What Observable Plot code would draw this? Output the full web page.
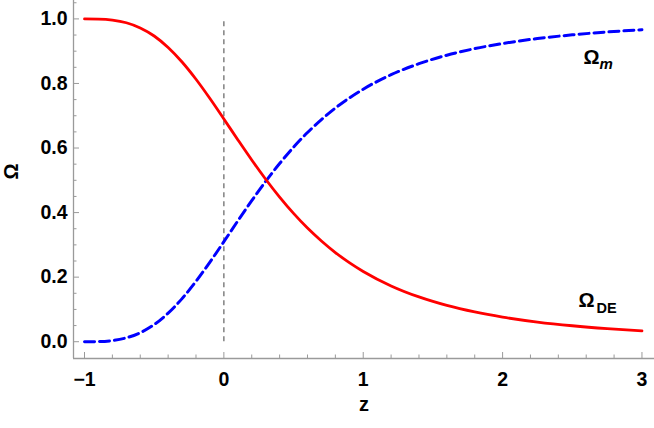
<!DOCTYPE html>
<html>
<head>
<meta charset="utf-8">
<script src="https://cdn.jsdelivr.net/npm/d3@7"></script>
<script src="https://cdn.jsdelivr.net/npm/@observablehq/plot@0.6"></script>
<style>
  html, body { margin: 0; padding: 0; background: #fff; }
  #chart svg { display: block; }
</style>
</head>
<body>
<div id="chart"></div>
<script>
// ---- data ----
const zValues = [-1, -0.9, -0.8, -0.7, -0.6, -0.5, -0.4, -0.3, -0.2, -0.1, 0,
                 0.1, 0.2, 0.3, 0.4, 0.5, 0.6, 0.7, 0.8, 0.9, 1.0,
                 1.2, 1.4, 1.6, 1.8, 2.0, 2.25, 2.5, 2.75, 3.0];
const omegaDE = [1.0, 0.9995, 0.9964, 0.988, 0.972, 0.947, 0.9115, 0.8665, 0.813, 0.7533, 0.69,
                 0.6258, 0.563, 0.5033, 0.448, 0.3974, 0.352, 0.312, 0.2762, 0.245, 0.2177,
                 0.1729, 0.1387, 0.1124, 0.0921, 0.0762, 0.0609, 0.0494, 0.0405, 0.0336];
const omegaM  = [0.0, 0.0005, 0.0036, 0.012, 0.028, 0.053, 0.0885, 0.1335, 0.187, 0.2467, 0.31,
                 0.3742, 0.437, 0.4967, 0.552, 0.6026, 0.648, 0.688, 0.7238, 0.755, 0.7823,
                 0.8271, 0.8613, 0.8876, 0.9079, 0.9238, 0.9391, 0.9506, 0.9595, 0.9664];

const xDomain = [-1.079, 3.09];
const yDomain = [-0.052, 1.057];
const xMajor = [-1, 0, 1, 2, 3];
const xMinor = [-0.8, -0.6, -0.4, -0.2, 0.2, 0.4, 0.6, 0.8, 1.2, 1.4, 1.6, 1.8,
                2.2, 2.4, 2.6, 2.8];
const yMajor = [0, 0.2, 0.4, 0.6, 0.8, 1.0];
const yMinor = [0.05, 0.1, 0.15, 0.25, 0.3, 0.35, 0.45, 0.5, 0.55, 0.65, 0.7, 0.75,
                0.85, 0.9, 0.95, 1.05];

const refZ = [0];
const refSpan = [0, 1];

const labelMain = ["Ω", "Ω"];
const labelSub = ["m", "DE"];
const labelZ = [2.581, 2.545];
const labelY = [0.861, 0.109];

const xTitle = "z";
const yTitle = "Ω";

// ---- tables ----
const deRows = zValues.map((z, i) => ({z, v: omegaDE[i]}));
const mRows = zValues.map((z, i) => ({z, v: omegaM[i]}));
const labelRows = labelMain.map((t, i) => ({t, s: labelSub[i], z: labelZ[i], y: labelY[i]}));

const font = "'Liberation Sans', Arial, Helvetica, sans-serif";
const axisGray = "#9a9a9a";
const fmtY = d => d.toFixed(1);
const fmtX = d => (d < 0 ? "\u2212" + Math.abs(d) : String(d));

const chart = Plot.plot({
  width: 654,
  height: 428,
  marginLeft: 73,
  marginRight: 0,
  marginTop: 0,
  marginBottom: 70,
  style: {fontFamily: font, background: "#fff", overflow: "visible"},
  x: {domain: xDomain},
  y: {domain: yDomain},
  marks: [
    // axis lines
    Plot.ruleX([xDomain[0]], {stroke: axisGray, strokeWidth: 1.3}),
    Plot.ruleY([yDomain[0]], {stroke: axisGray, strokeWidth: 1.3}),
    // inward ticks
    Plot.axisX(xMajor, {tickSize: -6, tickFormat: () => "", stroke: axisGray, label: null}),
    Plot.axisX(xMinor, {tickSize: -3.5, tickFormat: () => "", stroke: axisGray, label: null}),
    Plot.axisY(yMajor, {tickSize: -6, tickFormat: () => "", stroke: axisGray, label: null}),
    Plot.axisY(yMinor, {tickSize: -3.5, tickFormat: () => "", stroke: axisGray, label: null}),
    // tick labels
    Plot.axisX(xMajor, {tickSize: 0, tickPadding: 14, tickFormat: fmtX, label: null,
      fontSize: 19.5, fontWeight: "bold", fill: "#000"}),
    Plot.axisY(yMajor, {tickSize: 0, tickPadding: 6, tickFormat: fmtY, label: null,
      fontSize: 19.5, fontWeight: "bold", fill: "#000"}),
    // axis titles
    Plot.text([xTitle], {text: d => d, frameAnchor: "bottom", dy: 52,
      fontSize: 20, fontWeight: "bold", fill: "#000"}),
    Plot.text([yTitle], {text: d => d, frameAnchor: "left", dx: -62, rotate: -90,
      fontSize: 20, fontWeight: "bold", fill: "#000"}),
    // reference line at z = 0
    Plot.ruleX(refZ, {y1: refSpan[0], y2: refSpan[1], stroke: "#6e6e6e",
      strokeWidth: 1.3, strokeDasharray: "5,4"}),
    // curves
    Plot.line(mRows, {x: "z", y: "v", stroke: "#0000ff", strokeWidth: 3,
      strokeDasharray: "10,5", curve: "monotone-x"}),
    Plot.line(deRows, {x: "z", y: "v", stroke: "#ff0000", strokeWidth: 2.8,
      curve: "monotone-x"}),
    // curve labels
    Plot.text(labelRows, {x: "z", y: "y", text: "t", textAnchor: "start", lineAnchor: "bottom",
      fontSize: 20, fontWeight: "bold", fill: "#000"}),
    Plot.text(labelRows.filter(d => d.s === "m"), {x: "z", y: "y", text: "s", textAnchor: "start",
      lineAnchor: "bottom", dx: 16, dy: 5, fontSize: 15, fontWeight: "bold",
      fontStyle: "italic", fill: "#000"}),
    Plot.text(labelRows.filter(d => d.s === "DE"), {x: "z", y: "y", text: "s", textAnchor: "start",
      lineAnchor: "bottom", dx: 18, dy: 6, fontSize: 14.5, fontWeight: "bold", fill: "#000"})
  ]
});

document.getElementById("chart").appendChild(chart);
</script>
</body>
</html>
